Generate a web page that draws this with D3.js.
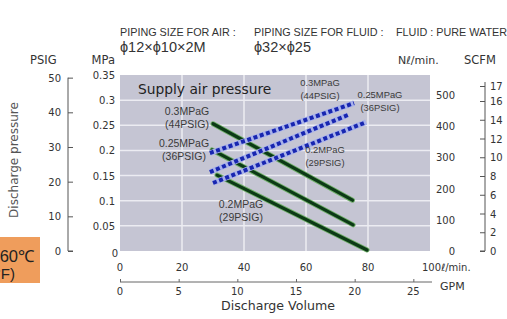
<!DOCTYPE html>
<html>
<head>
<meta charset="utf-8">
<title>Discharge pressure / volume</title>
<script src="https://cdn.jsdelivr.net/npm/d3@7"></script>
<style>
  html, body { margin: 0; padding: 0; background: #fff; }
  svg text { font-family: "DejaVu Sans", Verdana, sans-serif; fill: #333; }
  .narrow { font-family: "Liberation Sans", Arial, sans-serif !important; }
</style>
</head>
<body>
<svg id="chart" width="507" height="319"></svg>
<script>
// volume ticks (l/min) and GPM ticks
var flowTicks = [0, 20, 40, 60, 80, 100];
var gpmTicks = [0, 5, 10, 15, 20, 25];
var mpaTicks = [0.05, 0.1, 0.15, 0.2, 0.25, 0.3, 0.35];
var psigTicks = [0, 10, 20, 30, 40, 50];
var nlTicks = [0, 100, 200, 300, 400, 500];
var scfmTicks = [0, 2, 4, 6, 8, 10, 12, 14, 16, 17];

// discharge pressure curves: [l/min, MPa]
var press03 = [[30, 0.253], [75, 0.101]];
var press025 = [[29.7, 0.201], [75.2, 0.052]];
var press02 = [[31.3, 0.151], [79.7, 0.002]];

// air consumption curves: [l/min, Nl/min]
var air03 = [[29, 314], [75.5, 474]];
var air025 = [[29, 253], [73.5, 436]];
var air02 = [[30, 218], [79.4, 413]];

var svg = d3.select("#chart");

var x = d3.scaleLinear().domain([0, 100]).range([120, 430]);
var gpm = d3.scaleLinear().domain([0, 100 / 3.785]).range([120, 430]);
var y = d3.scaleLinear().domain([0, 0.35]).range([251, 75]);
var psig = d3.scaleLinear().domain([0, 0.35 * 145.04]).range([251, 75]);
var nl = d3.scaleLinear().domain([0, 500]).range([251, 95]);
// the printed SCFM scale is not quite even at the top
var scfm = d3.scaleLinear().domain([0, 16, 17]).range([251, 101, 86]);

// plot background
svg.append("rect")
  .attr("x", x(0)).attr("y", y(0.35))
  .attr("width", x(100) - x(0)).attr("height", y(0) - y(0.35))
  .attr("fill", "#c5c5d3");

svg.selectAll(".vg").data([20, 40, 60, 80]).enter().append("line")
  .attr("x1", function(d) { return x(d); }).attr("x2", function(d) { return x(d); })
  .attr("y1", y(0.35)).attr("y2", y(0))
  .attr("stroke", "#ececf2").attr("stroke-width", 1.5);

svg.selectAll(".hg").data([0.05, 0.1, 0.15, 0.2, 0.25, 0.3]).enter().append("line")
  .attr("x1", x(0)).attr("x2", x(100))
  .attr("y1", function(d) { return y(d); }).attr("y2", function(d) { return y(d); })
  .attr("stroke", "#ececf2").attr("stroke-width", 1.5);

svg.append("text").attr("x", 138).attr("y", 94)
  .style("font-size", "13.8px").style("fill", "#222").text("Supply air pressure");

// header
var hdr = [
  ["PIPING SIZE FOR AIR :", 120, 36, 10.8], ["\u03d512\u00d7\u03d510\u00d72M", 120, 52, 14.5],
  ["PIPING SIZE FOR FLUID :", 254, 36, 10.8], ["\u03d532\u00d7\u03d525", 254, 52, 14.5],
  ["FLUID : PURE WATER", 396, 36, 10.8]
];
svg.selectAll(".hdr").data(hdr).enter().append("text").attr("class", "narrow")
  .attr("x", function(d) { return d[1]; }).attr("y", function(d) { return d[2]; })
  .style("font-size", function(d) { return d[3] + "px"; })
  .text(function(d) { return d[0]; });

// unit labels
svg.append("text").attr("x", 30).attr("y", 64).style("font-size", "11.5px").text("PSIG");
svg.append("text").attr("x", 115).attr("y", 64).attr("text-anchor", "end").style("font-size", "11.5px").text("MPa");
svg.append("text").attr("x", 398).attr("y", 64).style("font-size", "11px").text("N\u2113/min.");
svg.append("text").attr("x", 464).attr("y", 64).style("font-size", "11.5px").text("SCFM");

// PSIG axis (left)
var psigAxis = d3.axisRight(psig).tickValues(psigTicks).tickSize(5).tickFormat("");
var gP = svg.append("g").attr("transform", "translate(68,0)").call(psigAxis);
gP.select(".domain").attr("d", "M0," + psig(50) + "V" + psig(0) + "H5");
gP.selectAll("line, path").attr("stroke", "#555");
svg.selectAll(".pl").data(psigTicks).enter().append("text")
  .attr("x", 61).attr("y", function(d) { return psig(d) + 4; })
  .attr("text-anchor", "end").style("font-size", "10px").text(function(d) { return d; });

// MPa labels
svg.selectAll(".ml").data(mpaTicks).enter().append("text")
  .attr("x", 115).attr("y", function(d) { return y(d) + 4; })
  .attr("text-anchor", "end").style("font-size", "10px").text(function(d) { return d; });
svg.append("text").attr("x", 118).attr("y", y(0) + 6)
  .attr("text-anchor", "end").style("font-size", "10px").text("0");

// Nl/min labels
svg.selectAll(".nl").data(nlTicks).enter().append("text")
  .attr("x", 455).attr("y", function(d) { return nl(d) + 4; })
  .attr("text-anchor", "end").style("font-size", "10px").text(function(d) { return d; });

// SCFM axis (right)
var scAxis = d3.axisLeft(scfm).tickValues(scfmTicks).tickSize(5).tickFormat("");
var gS = svg.append("g").attr("transform", "translate(485,0)").call(scAxis);
gS.select(".domain").attr("d", "M0," + (scfm(17) - 4) + "V" + scfm(0) + "H-5");
gS.selectAll("line, path").attr("stroke", "#555");
svg.selectAll(".sl").data(scfmTicks).enter().append("text")
  .attr("x", 490).attr("y", function(d) { return scfm(d) + 4; })
  .style("font-size", "10px").text(function(d) { return d; });

// l/min labels
svg.selectAll(".fl").data(flowTicks).enter().append("text")
  .attr("x", function(d) { return d === 100 ? x(d) - 8 : x(d); }).attr("y", 271)
  .attr("text-anchor", function(d) { return d === 100 ? "start" : "middle"; })
  .style("font-size", "10px")
  .text(function(d) { return d === 100 ? "100\u2113/min." : d; });

// GPM axis
var gpmAxis = d3.axisTop(gpm).tickValues(gpmTicks).tickSize(3).tickFormat("");
var gG = svg.append("g").attr("transform", "translate(0,282)").call(gpmAxis);
gG.select(".domain").attr("d", "M" + gpm(0) + ",0H" + (x(100) + 2));
gG.selectAll("line, path").attr("stroke", "#666");
svg.selectAll(".gl").data(gpmTicks).enter().append("text")
  .attr("x", function(d) { return gpm(d); }).attr("y", 295)
  .attr("text-anchor", "middle").style("font-size", "10px").text(function(d) { return d; });
svg.append("text").attr("x", 440).attr("y", 290).style("font-size", "11px").text("GPM");
svg.append("text").attr("x", 278).attr("y", 310).attr("text-anchor", "middle")
  .style("font-size", "12.6px").text("Discharge Volume");

svg.append("text").attr("transform", "translate(18,160) rotate(-90)")
  .attr("text-anchor", "middle").style("font-size", "12px").style("fill", "#555")
  .text("Discharge pressure");

// temperature box (cut at left edge, as printed)
svg.append("rect").attr("x", 0).attr("y", 237).attr("width", 40).attr("height", 46).attr("fill", "#ef9d5c");
svg.append("text").attr("class", "narrow").attr("x", 34).attr("y", 262).attr("text-anchor", "end")
  .style("font-size", "16.5px").style("fill", "#222").text("60\u2103");
svg.append("text").attr("class", "narrow").attr("x", 15).attr("y", 279).attr("text-anchor", "end")
  .style("font-size", "15px").style("fill", "#222").text("(140\u00b0F)");

// curves
var pLine = d3.line().x(function(d) { return x(d[0]); }).y(function(d) { return y(d[1]); });
var aLine = d3.line().x(function(d) { return x(d[0]); }).y(function(d) { return nl(d[1]); });

[press03, press025, press02].forEach(function(s) {
  svg.append("path").attr("d", pLine(s)).attr("fill", "none")
    .attr("stroke", "#6fae68").attr("stroke-width", 5).attr("stroke-linecap", "round");
  svg.append("path").attr("d", pLine(s)).attr("fill", "none")
    .attr("stroke", "#0c3a16").attr("stroke-width", 3.2).attr("stroke-linecap", "round");
});

[air03, air025, air02].forEach(function(s) {
  svg.append("path").attr("d", aLine(s)).attr("fill", "none")
    .attr("stroke", "#a9b2ea").attr("stroke-width", 5.5);
  svg.append("path").attr("d", aLine(s)).attr("fill", "none")
    .attr("stroke", "#1826b0").attr("stroke-width", 4).attr("stroke-dasharray", "4,2.6");
});

// curve labels: [line1, line2, centre x, baseline, size]
var lbls = [
  ["0.3MPaG", "(44PSIG)", 187, 115, 10.5], ["0.25MPaG", "(36PSIG)", 184, 147, 10.5],
  ["0.2MPaG", "(29PSIG)", 241, 208, 10.5],
  ["0.3MPaG", "(44PSIG)", 320, 86, 9.4], ["0.25MPaG", "(36PSIG)", 380, 98, 9.4],
  ["0.2MPaG", "(29PSIG)", 325, 153, 9.4]
];
lbls.forEach(function(l) {
  var t = svg.append("text").attr("class", "narrow").attr("text-anchor", "middle")
    .style("font-size", l[4] + "px").style("fill", "#3a3a3a");
  t.append("tspan").attr("x", l[2]).attr("y", l[3]).text(l[0]);
  t.append("tspan").attr("x", l[2]).attr("y", l[3] + 12.5).text(l[1]);
});
</script>
</body>
</html>
